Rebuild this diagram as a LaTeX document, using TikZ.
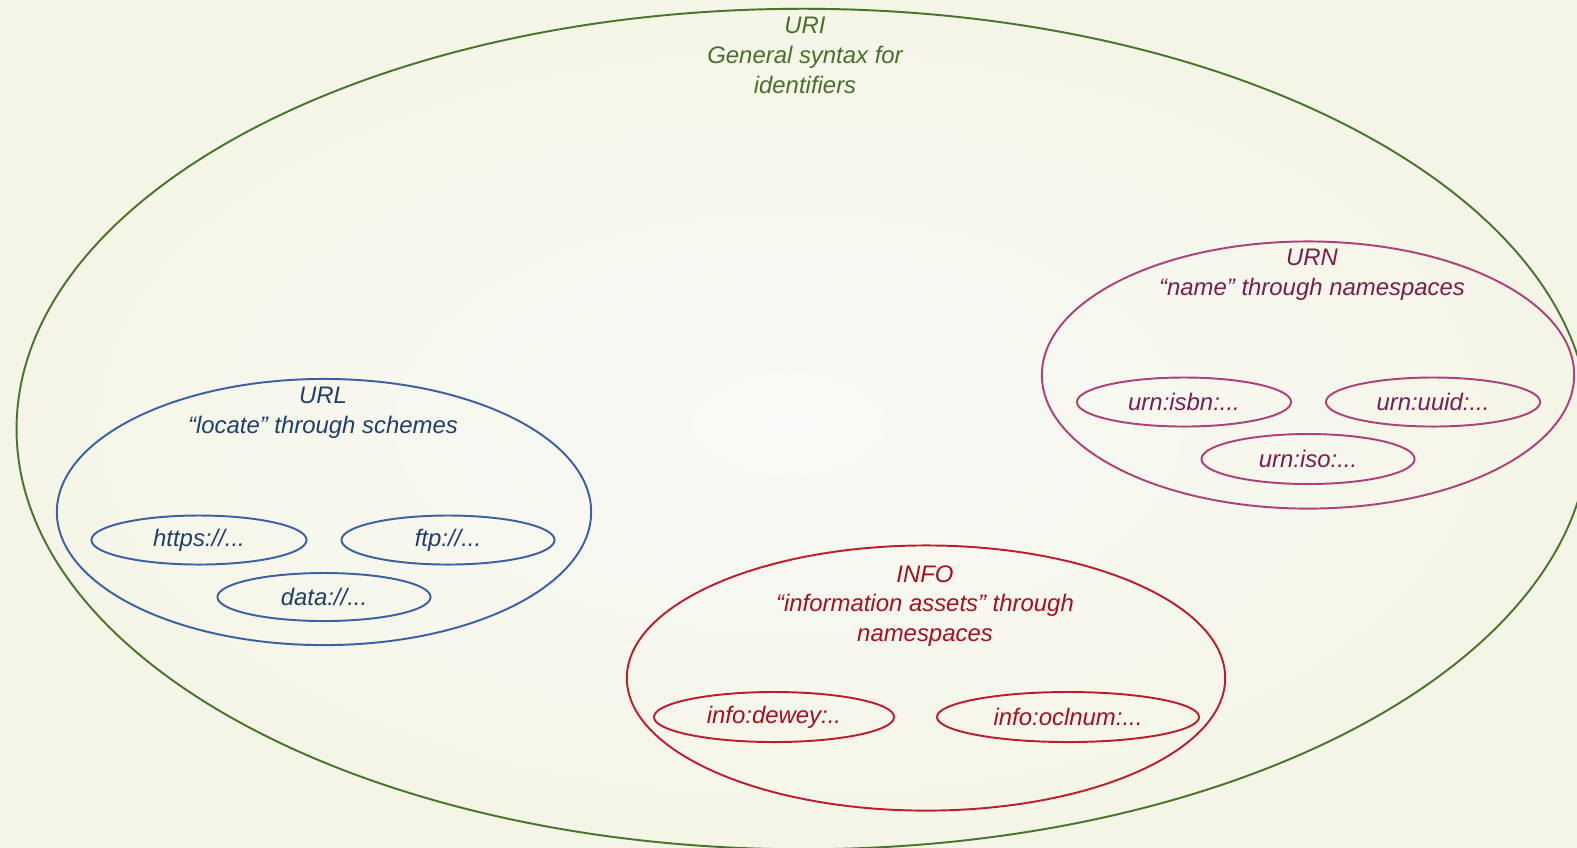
\documentclass[tikz,border=0pt]{standalone}
\usepackage{fontspec}
\setmainfont{Liberation Sans}
\usetikzlibrary{shapes.geometric}

\definecolor{bgin}{RGB}{249,250,247}
\definecolor{bgout}{RGB}{245,245,231}
\definecolor{uriline}{RGB}{72,116,46}
\definecolor{uritext}{RGB}{70,112,44}
\definecolor{urlline}{RGB}{60,96,164}
\definecolor{urltext}{RGB}{32,64,104}
\definecolor{urnline}{RGB}{176,64,122}
\definecolor{urntext}{RGB}{122,30,78}
\definecolor{infoline}{RGB}{190,30,44}
\definecolor{infotext}{RGB}{168,16,30}

\tikzset{
  setshape/.style={ellipse, draw, line width=0.55pt, inner sep=0pt},
  settext/.style={font=\itshape\fontsize{6.8}{8.5}\selectfont, align=center},
}

\begin{document}
\begin{tikzpicture}[x=0.01cm, y=-0.01cm]
    \useasboundingbox (0,0) rectangle (1577,847);
    \fill[inner color=bgin, outer color=bgout] (0,0) rectangle (1577,847);

    % URI
    \node[setshape, uriline, minimum width=15.72cm, minimum height=8.40cm] (uri) at (803,429) {};
    \node[settext, text=uritext] (uritxt) at (805,55) {URI\\General syntax for\\identifiers};

    % URL
    \node[setshape, urlline, minimum width=5.34cm, minimum height=2.66cm] (url) at (324,512) {};
    \node[settext, text=urltext] (urltxt) at (323,413) {URL\\“locate” through schemes};
    \node[setshape, urlline, minimum width=2.15cm, minimum height=0.49cm, settext, text=urltext] (https) at (199,540) {https://...};
    \node[setshape, urlline, minimum width=2.13cm, minimum height=0.49cm, settext, text=urltext] (ftp) at (448,540) {ftp://...};
    \node[setshape, urlline, minimum width=2.13cm, minimum height=0.48cm, settext, text=urltext] (data) at (324,597) {data://...};

    % URN
    \node[setshape, urnline, minimum width=5.32cm, minimum height=2.67cm] (urn) at (1308,375) {};
    \node[settext, text=urntext] (urntxt) at (1312,275) {URN\\“name” through namespaces};
    \node[setshape, urnline, minimum width=2.14cm, minimum height=0.49cm, settext, text=urntext] (isbn) at (1184,402) {urn:isbn:...};
    \node[setshape, urnline, minimum width=2.14cm, minimum height=0.49cm, settext, text=urntext] (uuid) at (1433,402) {urn:uuid:...};
    \node[setshape, urnline, minimum width=2.13cm, minimum height=0.50cm, settext, text=urntext] (iso) at (1308,459) {urn:iso:...};

    % INFO
    \node[setshape, infoline, minimum width=5.98cm, minimum height=2.65cm] (info) at (926,678) {};
    \node[settext, text=infotext] (infotxt) at (925,606) {INFO\\“information assets” through\\namespaces};
    \node[setshape, infoline, minimum width=2.40cm, minimum height=0.50cm, settext, text=infotext] (dewey) at (774,717) {info:dewey:..};
    \node[setshape, infoline, minimum width=2.62cm, minimum height=0.50cm, settext, text=infotext] (oclnum) at (1068,717) {info:oclnum:...};
\end{tikzpicture}
\end{document}
